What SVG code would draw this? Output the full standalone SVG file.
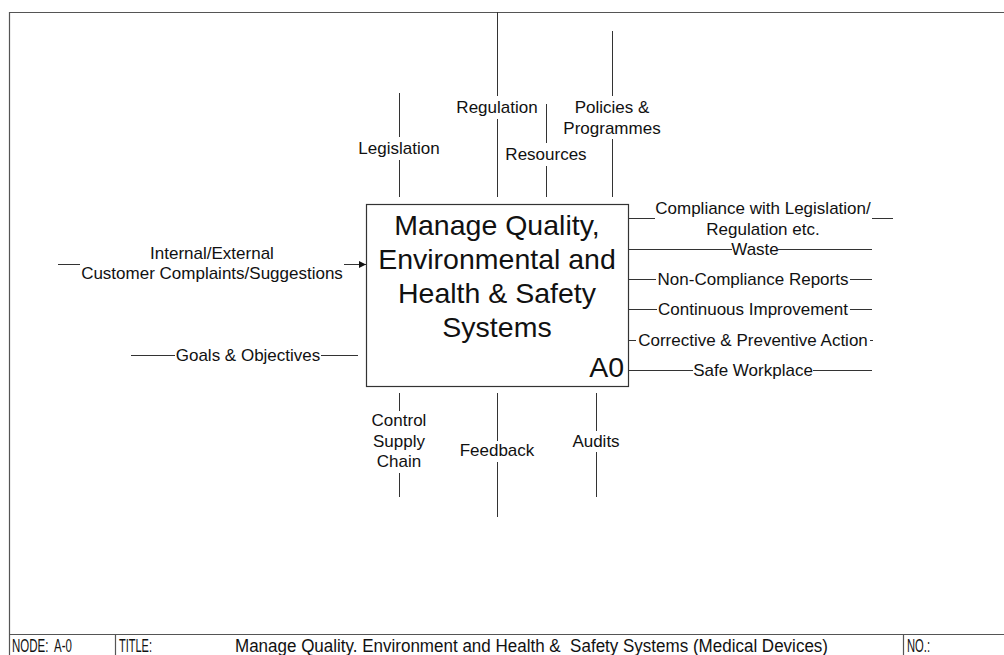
<svg xmlns="http://www.w3.org/2000/svg" width="1004" height="655" viewBox="0 0 1004 655">
<style>
  .ln { stroke:#333; stroke-width:1; fill:none; }
  .fr { stroke:#555; stroke-width:1.2; fill:none; }
  .lb { font-family:"Liberation Sans", Arial, sans-serif; font-size:17px; fill:#111; text-anchor:middle; }
  .tt { font-family:"Liberation Sans", Arial, sans-serif; font-size:28.5px; fill:#111; text-anchor:middle; }
  .ft { font-family:"Liberation Sans", Arial, sans-serif; font-size:17.5px; fill:#111; }
</style>
<defs>
  <marker id="arr" viewBox="0 0 10 10" refX="10" refY="5" markerWidth="7" markerHeight="7" markerUnits="userSpaceOnUse" orient="auto">
    <path d="M0,0 L10,5 L0,10 z" fill="#111"/>
  </marker>
</defs>
<rect width="1004" height="655" fill="#fff"/>
<g id="frame">
  <path class="fr" d="M1010,12.5 H9.5 V660"/>
  <path class="fr" d="M9.5,634.5 H1010 M115.5,634.5 V660 M903.5,634.5 V660"/>
  <text class="ft" x="12" y="652" textLength="60" lengthAdjust="spacingAndGlyphs" xml:space="preserve">NODE:  A-0</text>
  <text class="ft" x="119" y="652" textLength="33" lengthAdjust="spacingAndGlyphs">TITLE:</text>
  <text class="ft" x="235" y="652" textLength="593" lengthAdjust="spacingAndGlyphs" xml:space="preserve">Manage Quality. Environment and Health &amp;  Safety Systems (Medical Devices)</text>
  <text class="ft" x="907" y="652" textLength="23" lengthAdjust="spacingAndGlyphs">NO.:</text>
</g>
<g id="A0">
  <rect x="366.5" y="204.5" width="262" height="182" fill="#fff" stroke="#333" stroke-width="1.2"/>
  <text class="tt" x="497" y="235">Manage Quality,</text>
  <text class="tt" x="497" y="269">Environmental and</text>
  <text class="tt" x="497" y="303">Health &amp; Safety</text>
  <text class="tt" x="497" y="337">Systems</text>
  <text class="tt" x="624" y="377" style="text-anchor:end">A0</text>
</g>
<g id="connectors">
  <path class="ln" d="M399.5,93 V137 M399.5,160 V197"/>
  <path class="ln" d="M497.5,12 V96 M497.5,119 V197"/>
  <path class="ln" d="M546.5,104 V143 M546.5,166 V197"/>
  <path class="ln" d="M612.5,31 V96 M612.5,139 V197"/>
  <path class="ln" d="M399.5,393 V411 M399.5,473 V497"/>
  <path class="ln" d="M497.5,393 V441 M497.5,462 V517"/>
  <path class="ln" d="M596.5,393 V431 M596.5,452 V497"/>
  <path class="ln" d="M58,264.5 H80"/>
  <path class="ln" d="M344,264.5 H366" marker-end="url(#arr)"/>
  <path class="ln" d="M131,355.5 H175 M321,355.5 H358"/>
  <path class="ln" d="M628,218.5 H655 M872,218.5 H893"/>
  <path class="ln" d="M628,249.5 H732 M778,249.5 H872"/>
  <path class="ln" d="M628,279.5 H656 M850,279.5 H872"/>
  <path class="ln" d="M628,309.5 H657 M850,309.5 H872"/>
  <path class="ln" d="M628,340.5 H636 M870,340.5 H873"/>
  <path class="ln" d="M628,370.5 H693 M813,370.5 H872"/>
</g>
<g id="labels">
  <text class="lb" x="399" y="154">Legislation</text>
  <text class="lb" x="497" y="113">Regulation</text>
  <text class="lb" x="546" y="160">Resources</text>
  <text class="lb" x="612" y="113">Policies &amp;</text>
  <text class="lb" x="612" y="134">Programmes</text>
  <text class="lb" x="399" y="426">Control</text>
  <text class="lb" x="399" y="447">Supply</text>
  <text class="lb" x="399" y="467">Chain</text>
  <text class="lb" x="497" y="456">Feedback</text>
  <text class="lb" x="596" y="447">Audits</text>
  <text class="lb" x="212" y="259">Internal/External</text>
  <text class="lb" x="212" y="279">Customer Complaints/Suggestions</text>
  <text class="lb" x="248" y="361">Goals &amp; Objectives</text>
  <text class="lb" x="763" y="214">Compliance with Legislation/</text>
  <text class="lb" x="763" y="235">Regulation etc.</text>
  <text class="lb" x="755" y="255">Waste</text>
  <text class="lb" x="753" y="285">Non-Compliance Reports</text>
  <text class="lb" x="753" y="315">Continuous Improvement</text>
  <text class="lb" x="753" y="346">Corrective &amp; Preventive Action</text>
  <text class="lb" x="753" y="376">Safe Workplace</text>
</g>
</svg>
